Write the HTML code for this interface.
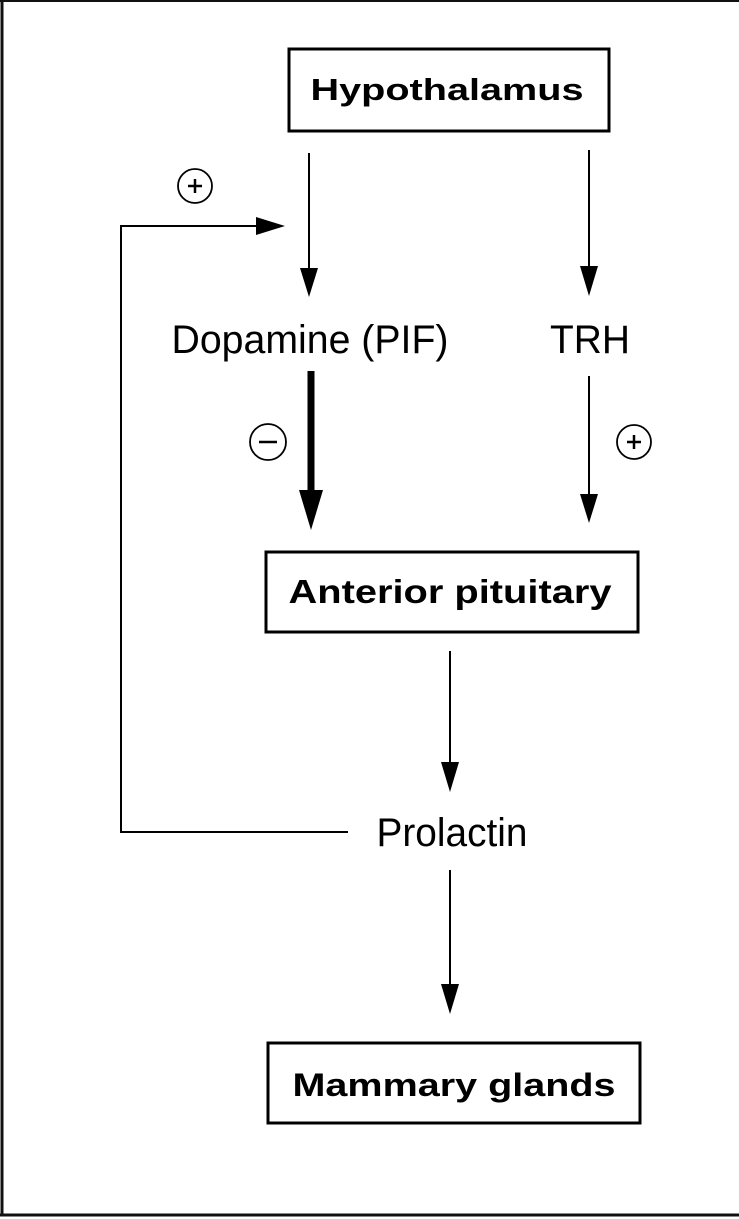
<!DOCTYPE html>
<html><head><meta charset="utf-8"><style>
html,body{margin:0;padding:0;background:#fff;}
svg{display:block;}
text{font-family:"Liberation Sans",Arial,sans-serif;fill:#000;}
</style></head><body>
<svg width="739" height="1219" viewBox="0 0 739 1219" xmlns="http://www.w3.org/2000/svg">
<rect x="0" y="0" width="739" height="1219" fill="#fff"/>
<line x1="2" y1="0" x2="2" y2="1216" stroke="#111" stroke-width="3"/>
<line x1="0" y1="1" x2="739" y2="1" stroke="#111" stroke-width="2"/>
<line x1="0" y1="1215" x2="739" y2="1215" stroke="#111" stroke-width="3"/>

<g fill="none" stroke="#000" stroke-width="3">
<rect x="289" y="49" width="320" height="82"/>
<rect x="266" y="552" width="372" height="80"/>
<rect x="268" y="1043" width="372" height="80"/>
</g>
<text x="447" y="100" font-size="31" font-weight="bold" text-anchor="middle" textLength="273" lengthAdjust="spacingAndGlyphs">Hypothalamus</text>
<text x="450" y="603" font-size="33" font-weight="bold" text-anchor="middle" textLength="323" lengthAdjust="spacingAndGlyphs">Anterior pituitary</text>
<text x="454" y="1096" font-size="32" font-weight="bold" text-anchor="middle" textLength="323" lengthAdjust="spacingAndGlyphs">Mammary glands</text>

<text x="310" y="353" font-size="40" text-anchor="middle" textLength="277" lengthAdjust="spacingAndGlyphs">Dopamine (PIF)</text>
<text x="590" y="353" font-size="40" text-anchor="middle" textLength="80" lengthAdjust="spacingAndGlyphs">TRH</text>
<text x="452" y="846" font-size="40" text-anchor="middle" textLength="151" lengthAdjust="spacingAndGlyphs">Prolactin</text>

<g stroke="#000" stroke-width="2">
<line x1="309" y1="153" x2="309" y2="272"/>
<line x1="589" y1="150" x2="589" y2="270"/>
<line x1="589" y1="376" x2="589" y2="498"/>
<line x1="450" y1="651" x2="450" y2="766"/>
<line x1="450" y1="870" x2="450" y2="988"/>
<polyline points="348,832 121,832 121,226 260,226" fill="none"/>
</g>
<line x1="311" y1="371" x2="311" y2="495" stroke="#000" stroke-width="7"/>
<g fill="#000">
<polygon points="300,268 318,268 309,297"/>
<polygon points="580,266 598,266 589,296"/>
<polygon points="580,494 598,494 589,523"/>
<polygon points="441,762 459,762 450,792"/>
<polygon points="441,984 459,984 450,1014"/>
<polygon points="256,217 256,235 285,226"/>
<polygon points="299,490 323,490 311,530"/>
</g>
<g fill="none" stroke="#000" stroke-width="1.8">
<circle cx="195" cy="186" r="17"/>
<circle cx="268" cy="442" r="18"/>
<circle cx="634" cy="442" r="17"/>
</g>
<g stroke="#000" stroke-width="2.5">
<line x1="188" y1="186" x2="202" y2="186"/><line x1="195" y1="179" x2="195" y2="193"/>
<line x1="259" y1="442" x2="277" y2="442"/>
<line x1="627" y1="442" x2="641" y2="442"/><line x1="634" y1="435" x2="634" y2="449"/>
</g>
</svg>
</body></html>
